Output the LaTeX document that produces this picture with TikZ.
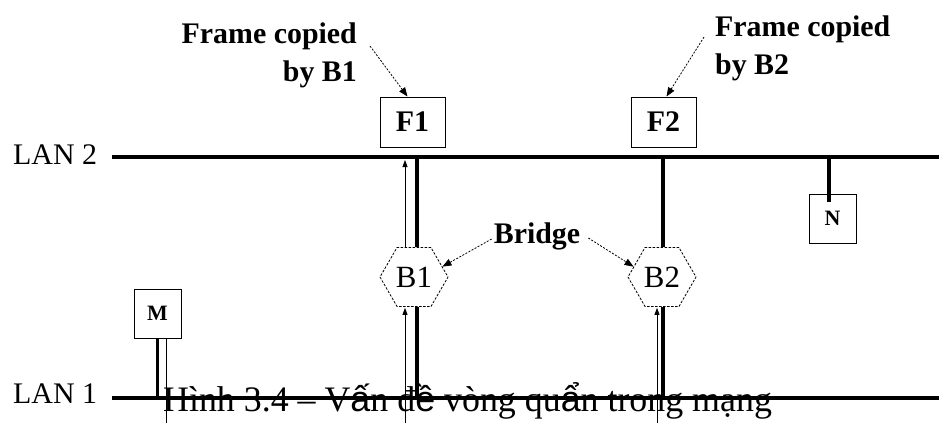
\documentclass[tikz,border=0pt]{standalone}
\usepackage{fontspec}
\setmainfont{Liberation Serif}
\newfontfamily\vietsans{Liberation Sans}
\usetikzlibrary{shapes.geometric,arrows.meta}
\tikzstyle{lanline} = [line width=4.5bp]
\tikzstyle{trunk} = [line width=4bp]
\tikzstyle{thinline} = [line width=0.8bp]
\tikzstyle{thinflow} = [line width=0.8bp, -{Triangle[length=7bp,width=5bp]}]
\tikzstyle{lanlabel} = [inner sep=0pt, font=\fontsize{30}{32}\selectfont]
\tikzstyle{framebox} = [draw=black, line width=1bp, rectangle, minimum width=65bp,
    minimum height=50bp, inner sep=0pt, font=\fontsize{30}{30}\selectfont\bfseries]
\tikzstyle{stationbox} = [draw=black, line width=1bp, rectangle, minimum width=47bp,
    minimum height=49bp, inner sep=0pt, font=\fontsize{22}{22}\selectfont\bfseries]
\tikzstyle{bridgehex} = [draw=black, regular polygon, regular polygon sides=6,
    minimum size=68bp, inner sep=0pt, line width=0.8bp, dash pattern=on 2.5bp off 1.5bp,
    font=\fontsize{31}{31}\selectfont]
\tikzstyle{note} = [line width=0.8bp, dash pattern=on 2bp off 1.5bp,
    -{Triangle[length=9bp,width=7bp]}]
\tikzstyle{notetext} = [inner sep=0pt, font=\fontsize{30}{38}\selectfont\bfseries]

\begin{document}
\begin{tikzpicture}[x=1bp, y=-1bp]
                \useasboundingbox (0,0) rectangle (939,423);
                \coordinate (lan2w) at (112,157);
                \coordinate (lan2e) at (939,157);
                \coordinate (lan1w) at (112,398);
                \coordinate (lan1e) at (939,398);
                \node[lanlabel, anchor=base west] (lan2lbl) at (13,164) {LAN 2};
                \node[lanlabel, anchor=base west] (lan1lbl) at (13,403) {LAN 1};
                \node[framebox] (f1) at (412.5,122) {F1};
                \node[framebox] (f2) at (663.5,122) {F2};
                \node[bridgehex] (b1) at (414,277) {B1};
                \node[bridgehex] (b2) at (662,277) {B2};
                \node[stationbox] (m) at (157.5,313.5) {M};
                \node[stationbox] (n) at (832.5,218.5) {N};
                \node[notetext, align=right, anchor=east] (cap1) at (357,55) {Frame copied\\by B1};
                \node[notetext, align=left, anchor=west] (cap2) at (715,48) {Frame copied\\by B2};
                \node[notetext] (bridge) at (537,236) {Bridge};
                \draw[lanline] (lan2w) -- (lan2e);
                \draw[lanline, line width=3.5bp] (lan1w) -- (lan1e);
                \coordinate (lan2b1) at (417,157);
                \coordinate (lan1b1) at (417,398);
                \coordinate (up1) at (405,423);
                \draw[trunk] (lan2b1) -- (b1.north -| lan2b1);
                \draw[trunk] (b1.south -| lan1b1) -- (lan1b1);
                \draw[thinflow] (up1) -- ([yshift=-1bp]b1.south -| up1);
                \draw[thinflow] (b1.north -| up1) -- ([yshift=-3bp]lan2w -| up1);
                \coordinate (lan2b2) at (663,157);
                \coordinate (lan1b2) at (663,398);
                \coordinate (up2) at (657,423);
                \draw[trunk] (lan2b2) -- (b2.north -| lan2b2);
                \draw[trunk] (b2.south -| lan1b2) -- (lan1b2);
                \draw[thinflow] (up2) -- ([yshift=-1bp]b2.south -| up2);
                \coordinate (lan1m) at (157,398);
                \coordinate (mdrop) at (166,423);
                \draw[trunk, line width=3bp] (m.south -| lan1m) -- (lan1m);
                \draw[thinline] (m.south -| mdrop) -- (mdrop);
                \coordinate (lan2n) at (829,157);
                \draw[trunk] (lan2n) -- ([yshift=-8bp]n.north -| lan2n);
                \draw[note] ([xshift=13bp,yshift=9bp]cap1.east) -- ([xshift=-5bp]f1.north);
                \draw[note] ([xshift=-11bp,yshift=11bp]cap2.west) -- ([xshift=3bp]f2.north);
                \draw[note] ([xshift=-2bp,yshift=-3bp]bridge.west) -- (b1.20);
                \draw[note] ([xshift=8bp,yshift=-2bp]bridge.east) -- (b2.160);
                \node[anchor=base west, inner sep=0pt, font=\fontsize{36}{36}\selectfont] (caption) at (163,411)
                    {Hình 3.4 – V{\vietsans ấ}n đ{\vietsans ề} vòng qu{\vietsans ẩ}n trong mạng};
            \end{tikzpicture}
\end{document}
